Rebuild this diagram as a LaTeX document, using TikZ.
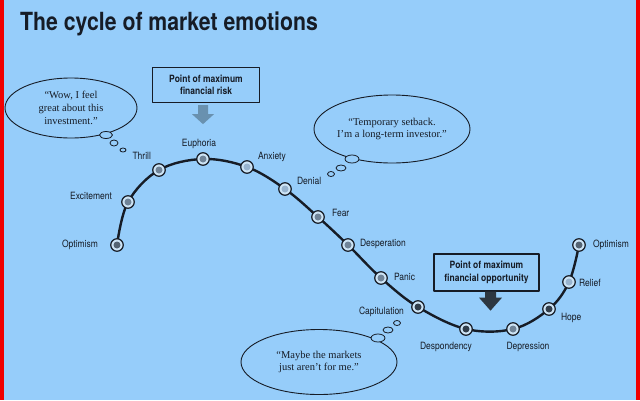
\documentclass[tikz,border=0pt]{standalone}
\usepackage{fontspec}
\setmainfont{Liberation Serif}
\newfontfamily\lblfont[FakeStretch=0.85]{TeX Gyre Heros}
\usetikzlibrary{positioning,shapes.geometric,backgrounds}

\definecolor{bgblue}{RGB}{150,205,250}
\definecolor{framered}{RGB}{240,0,0}
\definecolor{ink}{RGB}{22,28,38}
\definecolor{ringfill}{RGB}{205,228,245}
\definecolor{dotdark}{RGB}{50,62,75}
\definecolor{dotgrey}{RGB}{85,100,115}
\definecolor{dotmid}{RGB}{112,132,152}
\definecolor{dotlight}{RGB}{152,180,207}
\definecolor{riskarrow}{RGB}{105,145,175}
\definecolor{opparrow}{RGB}{45,55,65}

\tikzset{
    stage/.style={circle, draw=ink, line width=1.2pt, fill=ringfill,
        minimum size=12.5pt, inner sep=0pt,
        path picture={\fill[#1] (path picture bounding box.center) circle (3.5pt);}},
    lbl/.style={font=\lblfont\fontsize{10}{12}\selectfont, text=ink, inner sep=1pt},
    markbox/.style={draw=ink, line width=1.3pt, fill=bgblue, text=ink, align=center,
        font=\lblfont\bfseries\fontsize{10}{12.5}\selectfont, inner sep=0pt},
    bubble/.style={ellipse, draw=ink, line width=0.9pt, fill=bgblue, text=ink,
        align=center, inner sep=0pt},
    puff/.style={draw=ink, line width=0.8pt, fill=bgblue}
}

\begin{document}
\begin{tikzpicture}[x=1pt, y=-1pt, line join=round]
    \useasboundingbox (0,0) rectangle (640,400);

    % 标题
    \node[anchor=base west, text=ink, inner sep=0pt,
        font=\lblfont\bfseries\fontsize{25}{30}\selectfont] (title) at (20,30)
        {The cycle of market emotions};

    % 情绪节点
    \node[stage=dotgrey] (optimism1) at (117,245) {};
    \node[stage=dotmid] (excitement) at (128,202) {};
    \node[stage=dotmid] (thrill) at (159,170) {};
    \node[stage=dotmid] (euphoria) at (203,159) {};
    \node[stage=dotlight] (anxiety) at (247,167) {};
    \node[stage=dotlight] (denial) at (285,189) {};
    \node[stage=dotmid] (fear) at (318,217) {};
    \node[stage=dotmid] (desperation) at (348,245) {};
    \node[stage=dotmid] (panic) at (381,278) {};
    \node[stage=dotdark] (capitulation) at (418,307) {};
    \node[stage=dotdark] (despondency) at (466,329) {};
    \node[stage=dotmid] (depression) at (513,329) {};
    \node[stage=dotdark] (hope) at (549,309) {};
    \node[stage=dotlight] (relief) at (569,282) {};
    \node[stage=dotgrey] (optimism2) at (579,245) {};

    % 节点标注
    \node[lbl, left=11pt of optimism1] (l-optimism1) {Optimism};
    \node[lbl, left=8pt of excitement, yshift=6pt] (l-excitement) {Excitement};
    \node[lbl, left=0pt of thrill, yshift=14pt] (l-thrill) {Thrill};
    \node[lbl, above=2pt of euphoria, xshift=-4pt] (l-euphoria) {Euphoria};
    \node[lbl, right=3pt of anxiety, yshift=10pt] (l-anxiety) {Anxiety};
    \node[lbl, right=4pt of denial, yshift=8pt] (l-denial) {Denial};
    \node[lbl, right=6pt of fear, yshift=4pt] (l-fear) {Fear};
    \node[lbl, right=4pt of desperation, yshift=1pt] (l-desperation) {Desperation};
    \node[lbl, right=5pt of panic, yshift=1pt] (l-panic) {Panic};
    \node[lbl, left=6pt of capitulation, yshift=-5pt] (l-capitulation) {Capitulation};
    \node[lbl, below=5pt of despondency, xshift=-20pt] (l-despondency) {Despondency};
    \node[lbl, below=5pt of depression, xshift=15pt] (l-depression) {Depression};
    \node[lbl, right=4pt of hope, yshift=-9pt] (l-hope) {Hope};
    \node[lbl, right=2pt of relief, yshift=-1pt] (l-relief) {Relief};
    \node[lbl, right=6pt of optimism2] (l-optimism2) {Optimism};

    % 背景与曲线
    \begin{scope}[on background layer]
        \fill[bgblue] (0,0) rectangle (640,400);
        \fill[framered] (0,0) rectangle (4,400);
        \fill[framered] (636,0) rectangle (640,400);
        \draw[ink, line width=2.4pt, line cap=round]
            plot[smooth, tension=0.6] coordinates {
                (optimism1.center) (excitement.center) (thrill.center)
                (euphoria.center) (anxiety.center) (denial.center)
                (fear.center) (desperation.center) (panic.center)
                (capitulation.center) (despondency.center) (depression.center)
                (hope.center) (relief.center) (optimism2.center)};
    \end{scope}

    % 风险与机会提示框
    \node[markbox, minimum width=107pt, minimum height=35pt] (riskbox) at (206,85)
        {Point of maximum\\financial risk};
    \node[markbox, minimum width=105pt, minimum height=37pt] (oppbox) at (486.5,272.5)
        {Point of maximum\\financial opportunity};

    % 向下箭头
    \fill[riskarrow] ([xshift=-3pt]riskbox.south) ++(-5,2) -- ++(0,9) -- ++(-6,0)
        -- ++(11,10) -- ++(11,-10) -- ++(-6,0) -- ++(0,-9) -- cycle;
    \fill[opparrow] ([xshift=4pt]oppbox.south) ++(-5.5,0) -- ++(0,6) -- ++(-6,0)
        -- ++(11.5,13) -- ++(11.5,-13) -- ++(-6,0) -- ++(0,-6) -- cycle;

    % 思考气泡
    \node[bubble, minimum width=132pt, minimum height=60pt,
        font=\fontsize{10.5}{13}\selectfont] (wowbubble) at (71,108)
        {``Wow, I feel\\great about this\\investment.''};
    \draw[puff] (106,135) ellipse (6.5 and 3.5);
    \draw[puff] (114,143) ellipse (4 and 3);
    \draw[puff] (123,150) ellipse (3 and 2);

    \node[bubble, minimum width=156pt, minimum height=68pt,
        font=\fontsize{10.5}{12}\selectfont] (setbackbubble) at (392,129)
        {``Temporary setback.\\I'm a long-term investor.''};
    \draw[puff] (352,159) ellipse (7 and 4);
    \draw[puff] (341,168) ellipse (5 and 3);
    \draw[puff] (331,174) ellipse (3.5 and 2.5);

    \node[bubble, minimum width=156pt, minimum height=65pt,
        font=\fontsize{10.5}{12}\selectfont] (maybebubble) at (319,362)
        {``Maybe the markets\\just aren't for me.''};
    \draw[puff] (378,338) ellipse (7 and 4);
    \draw[puff] (388,330) ellipse (5 and 3);
    \draw[puff] (397,323) ellipse (3.5 and 2.5);
\end{tikzpicture}
\end{document}
